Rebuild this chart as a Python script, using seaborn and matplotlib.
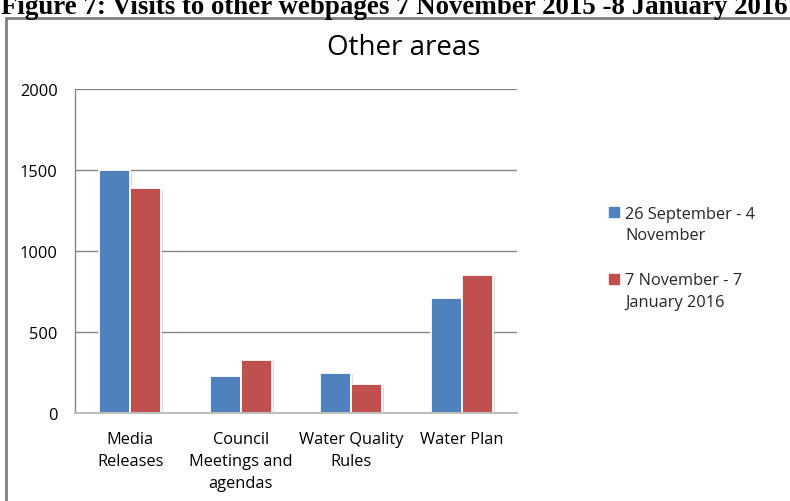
import matplotlib
matplotlib.use("Agg")
import matplotlib.pyplot as plt
import matplotlib.patheffects as pe
from matplotlib.lines import Line2D
import seaborn as sns
import pandas as pd

# ---- data ----
categories = ["Media\nReleases", "Council\nMeetings and\nagendas", "Water Quality\nRules", "Water Plan"]
series_names = ["26 September - 4\nNovember", "7 November - 7\nJanuary 2016"]
period1 = [1500, 230, 250, 710]
period2 = [1390, 330, 180, 850]
yticks = [0, 500, 1000, 1500, 2000]

colors = ["#4F81BD", "#C0504D"]

df = pd.DataFrame({
    "category": categories * 2,
    "visits": period1 + period2,
    "period": [series_names[0]] * len(categories) + [series_names[1]] * len(categories),
})

sns.set_theme(style="white")
plt.rcParams["font.family"] = ["Open Sans", "DejaVu Sans"]

W, H = 790, 502
fig = plt.figure(figsize=(W / 100, H / 100), dpi=100)
fig.patch.set_facecolor("white")

ax = fig.add_axes([75 / W, (H - 414) / H, (517 - 75) / W, (414 - 90) / H])

sns.barplot(data=df, x="category", y="visits", hue="period", order=categories,
            hue_order=series_names, palette=colors, width=0.56, gap=0,
            edgecolor="white", linewidth=1.3, saturation=1, ax=ax, legend=False)

for p in ax.patches:
    p.set_path_effects([pe.SimplePatchShadow(offset=(1.5, -1.2), alpha=0.25, shadow_rgbFace="#777777"),
                        pe.Normal()])

ax.set_ylim(0, 2000)
ax.set_xlim(-0.5, len(categories) - 0.5)
ax.set_yticks(yticks)
ax.set_yticklabels([str(v) for v in yticks])
ax.yaxis.grid(True, color="#868686", linewidth=1)
ax.set_axisbelow(True)
ax.set_xlabel("")
ax.set_ylabel("")
ax.tick_params(axis="y", length=0, pad=12.5, labelsize=11.8, labelcolor="#000000")
ax.tick_params(axis="x", length=0, pad=13, labelsize=11.8, labelcolor="#000000")
for lbl in ax.get_xticklabels():
    lbl.set_linespacing(1.5)
    lbl.set_verticalalignment("top")

for s in ["top", "right"]:
    ax.spines[s].set_visible(False)
ax.spines["left"].set_color("#868686")
ax.spines["left"].set_linewidth(1)
ax.spines["bottom"].set_color("#BFBFBF")
ax.spines["bottom"].set_linewidth(1.5)

# chart title
fig.text(404 / W, 1 - 48 / H, "Other areas", ha="center", va="center", fontsize=20, color="#000000")

# legend
handles = [Line2D([], [], marker="s", linestyle="none", markersize=7.5, markerfacecolor=c,
                  markeredgecolor=c) for c in colors]
leg = fig.legend(handles, series_names, loc="upper left", bbox_to_anchor=(603 / W, 1 - 200 / H),
                 frameon=False, fontsize=11.8, handlelength=0.6, handleheight=1.1,
                 handletextpad=0.35, labelspacing=1.8, borderaxespad=0)
for t in leg.get_texts():
    t.set_linespacing(1.45)
# align each legend square with the first line of its label
for col in leg._legend_handle_box.get_children():
    for row in col.get_children():
        row.align = "top"

# document heading (cut off at top) and chart border
fig.text(1 / W, 1 - 14 / H, "Figure 7: Visits to other webpages 7 November 2015 -8 January 2016",
         ha="left", va="baseline", fontsize=19.4, fontweight="bold", family="Liberation Serif",
         color="#000000")
fig.add_artist(Line2D([6 / W, 6 / W], [0, 1 - 19 / H], transform=fig.transFigure,
                      color="#808080", linewidth=2))
fig.add_artist(Line2D([6 / W, 1], [1 - 19 / H, 1 - 19 / H], transform=fig.transFigure,
                      color="#808080", linewidth=2))

fig.savefig("out.png", dpi=100, facecolor="white")
